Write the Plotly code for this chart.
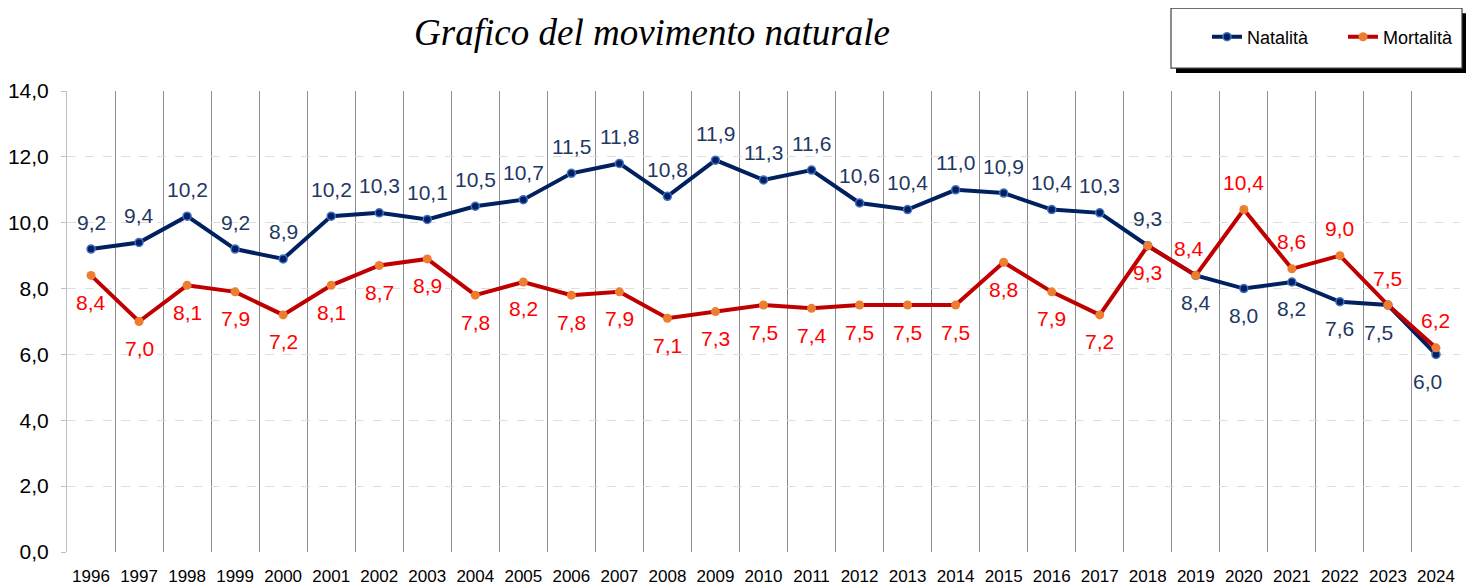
import plotly.graph_objects as go

years = [str(y) for y in range(1996, 2025)]
natalita = [9.2, 9.4, 10.2, 9.2, 8.9, 10.2, 10.3, 10.1, 10.5, 10.7, 11.5, 11.8, 10.8, 11.9, 11.3,
            11.6, 10.6, 10.4, 11.0, 10.9, 10.4, 10.3, 9.3, 8.4, 8.0, 8.2, 7.6, 7.5, 6.0]
mortalita = [8.4, 7.0, 8.1, 7.9, 7.2, 8.1, 8.7, 8.9, 7.8, 8.2, 7.8, 7.9, 7.1, 7.3, 7.5,
             7.4, 7.5, 7.5, 7.5, 8.8, 7.9, 7.2, 9.3, 8.4, 10.4, 8.6, 9.0, 7.5, 6.2]
y_ticks = [0, 2, 4, 6, 8, 10, 12, 14]

# label placement: +1 above, -1 below
nat_pos = [1] * 23 + [-1] * 6
mor_pos = [-1] * 23 + [1] * 6
nat_xshift = {"2023": -9, "2024": -8}
mor_xshift = {"2019": -7}

NAT_LINE = "#002060"
MOR_LINE = "#C00000"
NAT_TXT = "#1F3864"
MOR_TXT = "#FF0000"
FONT = "Liberation Sans, Arial, sans-serif"

fig = go.Figure()
fig.add_trace(go.Scatter(
    x=years, y=natalita, name="Natalità", mode="lines+markers", legend="legend",
    line=dict(color=NAT_LINE, width=4),
    marker=dict(size=8, color=NAT_LINE, line=dict(color="#4472C4", width=1.5)),
))
fig.add_trace(go.Scatter(
    x=years, y=mortalita, name="Mortalità", mode="lines+markers", legend="legend2",
    line=dict(color=MOR_LINE, width=4),
    marker=dict(size=9, color="#ED7D31", line=dict(color="#ED7D31", width=0)),
))

def fmt(v):
    return f"{v:.1f}".replace(".", ",")

annotations = []
for i, (yr, v, p) in enumerate(zip(years, natalita, nat_pos)):
    annotations.append(dict(x=i, y=v, text=fmt(v), showarrow=False,
                            yshift=27 * p, xshift=nat_xshift.get(yr, 0),
                            font=dict(family=FONT, size=21, color=NAT_TXT)))
for i, (yr, v, p) in enumerate(zip(years, mortalita, mor_pos)):
    annotations.append(dict(x=i, y=v, text=fmt(v), showarrow=False,
                            yshift=27 * p, xshift=mor_xshift.get(yr, 0),
                            font=dict(family=FONT, size=21, color=MOR_TXT)))

# page body margin offsets the figure by 8px; layout is given in screen px
OFF = 8
W, H = 1474 - OFF, 585 - OFF
L, T = 67 - OFF, 90 - OFF
R = W - (1460 - OFF)
B = H - (552 - OFF)
pw, ph = W - L - R, H - T - B

def px_x(x):
    return (x - OFF - L) / pw

def px_y(y):
    return (H - B - (y - OFF)) / ph

shapes = [
    dict(type="rect", xref="paper", yref="paper",
         x0=px_x(1176), x1=px_x(1467), y0=px_y(72), y1=px_y(12),
         fillcolor="black", line=dict(width=0), layer="above"),
    dict(type="rect", xref="paper", yref="paper",
         x0=px_x(1171), x1=px_x(1462), y0=px_y(67), y1=px_y(7),
         fillcolor="white", line=dict(color="#404040", width=1.2), layer="above"),
]

legend_common = dict(orientation="h", y=px_y(37), xanchor="left", yanchor="middle",
                     bgcolor="rgba(0,0,0,0)", borderwidth=0,
                     font=dict(family=FONT, size=18, color="black"))

fig.update_layout(
    width=W, height=H,
    margin=dict(l=L, r=R, t=T, b=B),
    paper_bgcolor="white", plot_bgcolor="white",
    separators=",.",
    title=dict(text="Grafico del movimento naturale", xref="container",
               x=(652 - OFF) / W, xanchor="center", y=1 - (32 - OFF) / H, yanchor="middle",
               font=dict(family="Liberation Serif, Times New Roman, serif", size=37,
                         color="black", style="italic")),
    showlegend=True,
    legend=dict(x=px_x(1207), **legend_common),
    legend2=dict(x=px_x(1343), **legend_common),
    annotations=annotations,
    shapes=shapes,
    xaxis=dict(type="category", range=[-0.5, len(years) - 0.5], tickson="boundaries",
               showgrid=True, gridcolor="#8c8c8c", gridwidth=1, ticks="", showline=False,
               zeroline=False, automargin=False, tickangle=0, ticklabelstandoff=12,
               tickfont=dict(family=FONT, size=17, color="black")),
    yaxis=dict(range=[0, 14], tickvals=y_ticks, tickformat=".1f", automargin=False,
               showgrid=True, gridcolor="#dedede", griddash="dash", gridwidth=1,
               zeroline=False, showline=True, linecolor="#bfbfbf", linewidth=1,
               ticks="outside", ticklen=5, tickcolor="#bfbfbf", ticklabelstandoff=8,
               tickfont=dict(family=FONT, size=21, color="black")),
)

fig.write_html("out.html")
